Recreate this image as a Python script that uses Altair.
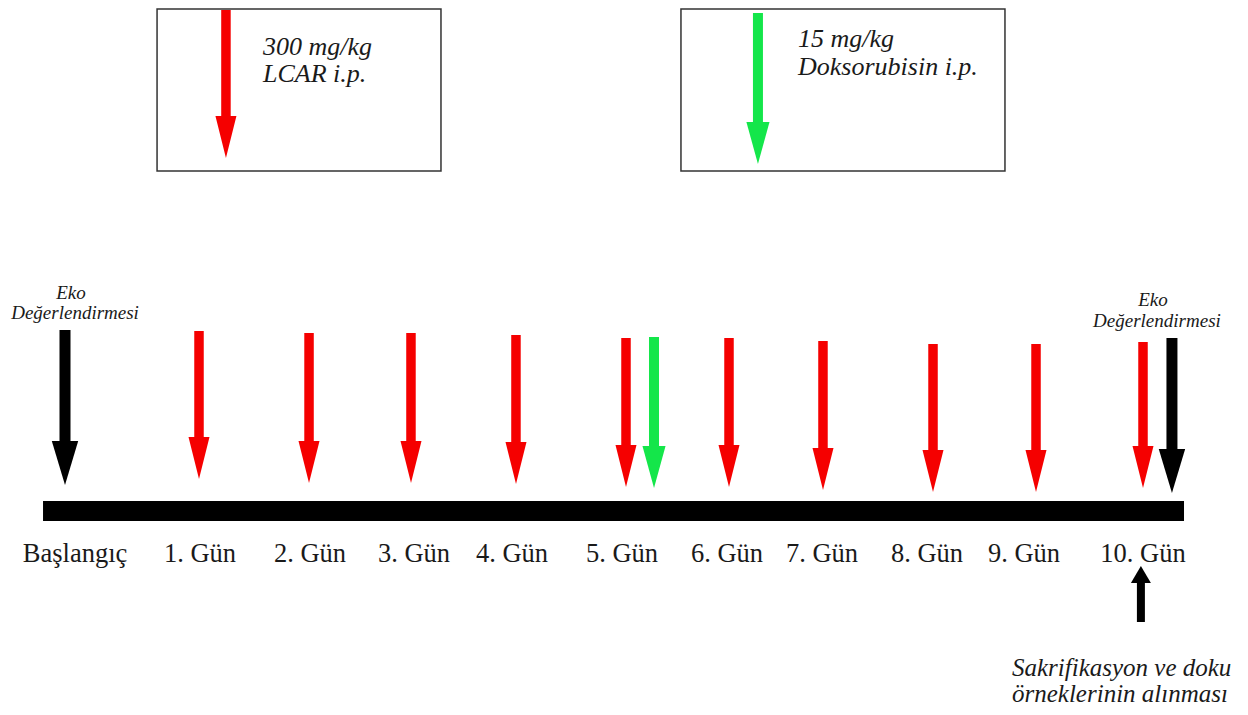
import altair as alt
import pandas as pd

# ---------------- data ----------------
# Timeline labels (position in days along the time axis)
day_labels = ["Başlangıç", "1. Gün", "2. Gün", "3. Gün", "4. Gün", "5. Gün",
              "6. Gün", "7. Gün", "8. Gün", "9. Gün", "10. Gün"]
label_day = [0.075, 1.01, 2.058, 3.05, 3.984, 5.033, 6.034, 6.94, 7.941, 8.865, 10.0]
label_level = [-51] * len(day_labels)

# Arrows: kind, day, tail level, tip level (levels: height above the time line)
arrow_kind = ["eko", "lcar", "lcar", "lcar", "lcar", "lcar", "dox", "lcar",
              "lcar", "lcar", "lcar", "lcar", "eko", "lcar", "dox", "sample"]
arrow_day = [0.0, 1.0, 2.049, 3.021, 4.022, 5.071, 5.338, 6.053,
             6.949, 7.998, 8.980, 10.0, 10.276, 1.257, 6.329, 9.98]
arrow_tail = [181, 180, 178, 178, 176, 173, 174, 173,
              170, 167, 167, 169, 173, 501, 498, -111]
arrow_tip = [26, 32, 28, 28, 27, 24, 23, 24,
             21, 19, 19, 23, 18, 353, 347, -55]

# Time line extent (days)
bar_start = [-0.164]
bar_end = [10.391]

# Legend boxes
box_x0 = [0.687, 5.595]
box_x1 = [3.307, 8.684]
box_top = [502, 502]
box_bottom = [340, 340]

legend_text = ["300 mg/kg", "LCAR i.p.", "15 mg/kg", "Doksorubisin i.p."]
legend_day = [1.610, 1.610, 6.711, 6.711]
legend_level = [456, 429, 464, 436]

eko_text = ["Eko", "Değerlendirmesi", "Eko", "Değerlendirmesi"]
eko_day = [0.045, 0.075, 10.095, 10.133]
eko_level = [212, 192, 205, 184]

note_text = ["Sakrifikasyon ve doku", "örneklerinin alınması"]
note_day = [8.751, 8.751]
note_level = [-165, -191]

# ---------------- styles ----------------
STYLE = {
    "eko":    dict(color="#000000", shaft=11,  head_h=44, size=44 ** 2, dir=1,
                   path="M-0.6,-1L0.6,-1L0,1Z"),
    "lcar":   dict(color="#f50000", shaft=9.5, head_h=42, size=42 ** 2, dir=1,
                   path="M-0.5,-1L0.5,-1L0,1Z"),
    "dox":    dict(color="#14e64a", shaft=10,  head_h=42, size=42 ** 2, dir=1,
                   path="M-0.55,-1L0.55,-1L0,1Z"),
    "sample": dict(color="#000000", shaft=8,   head_h=17, size=20 ** 2, dir=-1,
                   path="M-1,0.85L1,0.85L0,-0.85Z"),
}
SERIF = "Liberation Serif"
TEXT_COLOR = "#1a1a1a"
BAR_HALF = 10

# ---------------- tables ----------------
arrows = pd.DataFrame({"kind": arrow_kind, "day": arrow_day,
                       "tail": arrow_tail, "tip": arrow_tip})
arrows["head_c"] = [t + STYLE[k]["dir"] * STYLE[k]["head_h"] / 2
                    for k, t in zip(arrows.kind, arrows.tip)]
arrows["shaft_end"] = [t + STYLE[k]["dir"] * STYLE[k]["head_h"] * 0.8
                       for k, t in zip(arrows.kind, arrows.tip)]
arrows["color"] = [STYLE[k]["color"] for k in arrows.kind]
arrows["shaft_w"] = [STYLE[k]["shaft"] for k in arrows.kind]
arrows["head_size"] = [STYLE[k]["size"] for k in arrows.kind]
arrows["head_path"] = [STYLE[k]["path"] for k in arrows.kind]

labels = pd.DataFrame({"label": day_labels, "day": label_day, "level": label_level})
bar = pd.DataFrame({"start": bar_start, "end": bar_end,
                    "lo": [-BAR_HALF], "hi": [BAR_HALF]})
boxes = pd.DataFrame({"x0": box_x0, "x1": box_x1, "top": box_top, "bottom": box_bottom})
legend = pd.DataFrame({"text": legend_text, "day": legend_day, "level": legend_level})
eko = pd.DataFrame({"text": eko_text, "day": eko_day, "level": eko_level})
note = pd.DataFrame({"text": note_text, "day": note_day, "level": note_level})

X_SCALE = alt.Scale(domain=[0, 1, 10], range=[57, 191, 1135], nice=False, zero=False)
Y_SCALE = alt.Scale(domain=[-196, 503], nice=False, zero=False)


def X(field):
    return alt.X(field, type="quantitative", scale=X_SCALE, axis=None)


def Y(field):
    return alt.Y(field, type="quantitative", scale=Y_SCALE, axis=None)


box_layer = alt.Chart(boxes).mark_rect(fill="white", stroke="#333333", strokeWidth=1.5).encode(
    x=X("x0"), x2="x1", y=Y("top"), y2="bottom")

bar_layer = alt.Chart(bar).mark_rect(color="#000000").encode(
    x=X("start"), x2="end", y=Y("lo"), y2="hi")

shaft_layer = alt.Chart(arrows).mark_rule(strokeCap="butt").encode(
    x=X("day"), y=Y("tail"), y2="shaft_end",
    color=alt.Color("color:N", scale=None),
    strokeWidth=alt.StrokeWidth("shaft_w:Q", scale=None))

head_layer = alt.Chart(arrows).mark_point(filled=True, opacity=1, strokeWidth=0).encode(
    x=X("day"), y=Y("head_c"),
    color=alt.Color("color:N", scale=None),
    shape=alt.Shape("head_path:N", scale=None),
    size=alt.Size("head_size:Q", scale=None))

label_layer = alt.Chart(labels).mark_text(
    font=SERIF, fontSize=26.5, align="center", baseline="alphabetic", color=TEXT_COLOR).encode(
    x=X("day"), y=Y("level"), text="label:N")

legend_layer = alt.Chart(legend).mark_text(
    font=SERIF, fontSize=26, fontStyle="italic", align="left", baseline="alphabetic",
    color=TEXT_COLOR).encode(x=X("day"), y=Y("level"), text="text:N")

eko_layer = alt.Chart(eko).mark_text(
    font=SERIF, fontSize=19, fontStyle="italic", align="center", baseline="alphabetic",
    color=TEXT_COLOR).encode(x=X("day"), y=Y("level"), text="text:N")

note_layer = alt.Chart(note).mark_text(
    font=SERIF, fontSize=25, fontStyle="italic", align="left", baseline="alphabetic",
    color=TEXT_COLOR).encode(x=X("day"), y=Y("level"), text="text:N")

chart = alt.layer(
    box_layer, bar_layer, shaft_layer, head_layer,
    label_layer, legend_layer, eko_layer, note_layer
).properties(
    width=1232, height=699,
    autosize=alt.AutoSizeParams(type="none"),
    padding=0,
    background="white",
).configure_view(strokeWidth=0)

chart.save("out.html", embed_options={"renderer": "svg", "actions": False})
